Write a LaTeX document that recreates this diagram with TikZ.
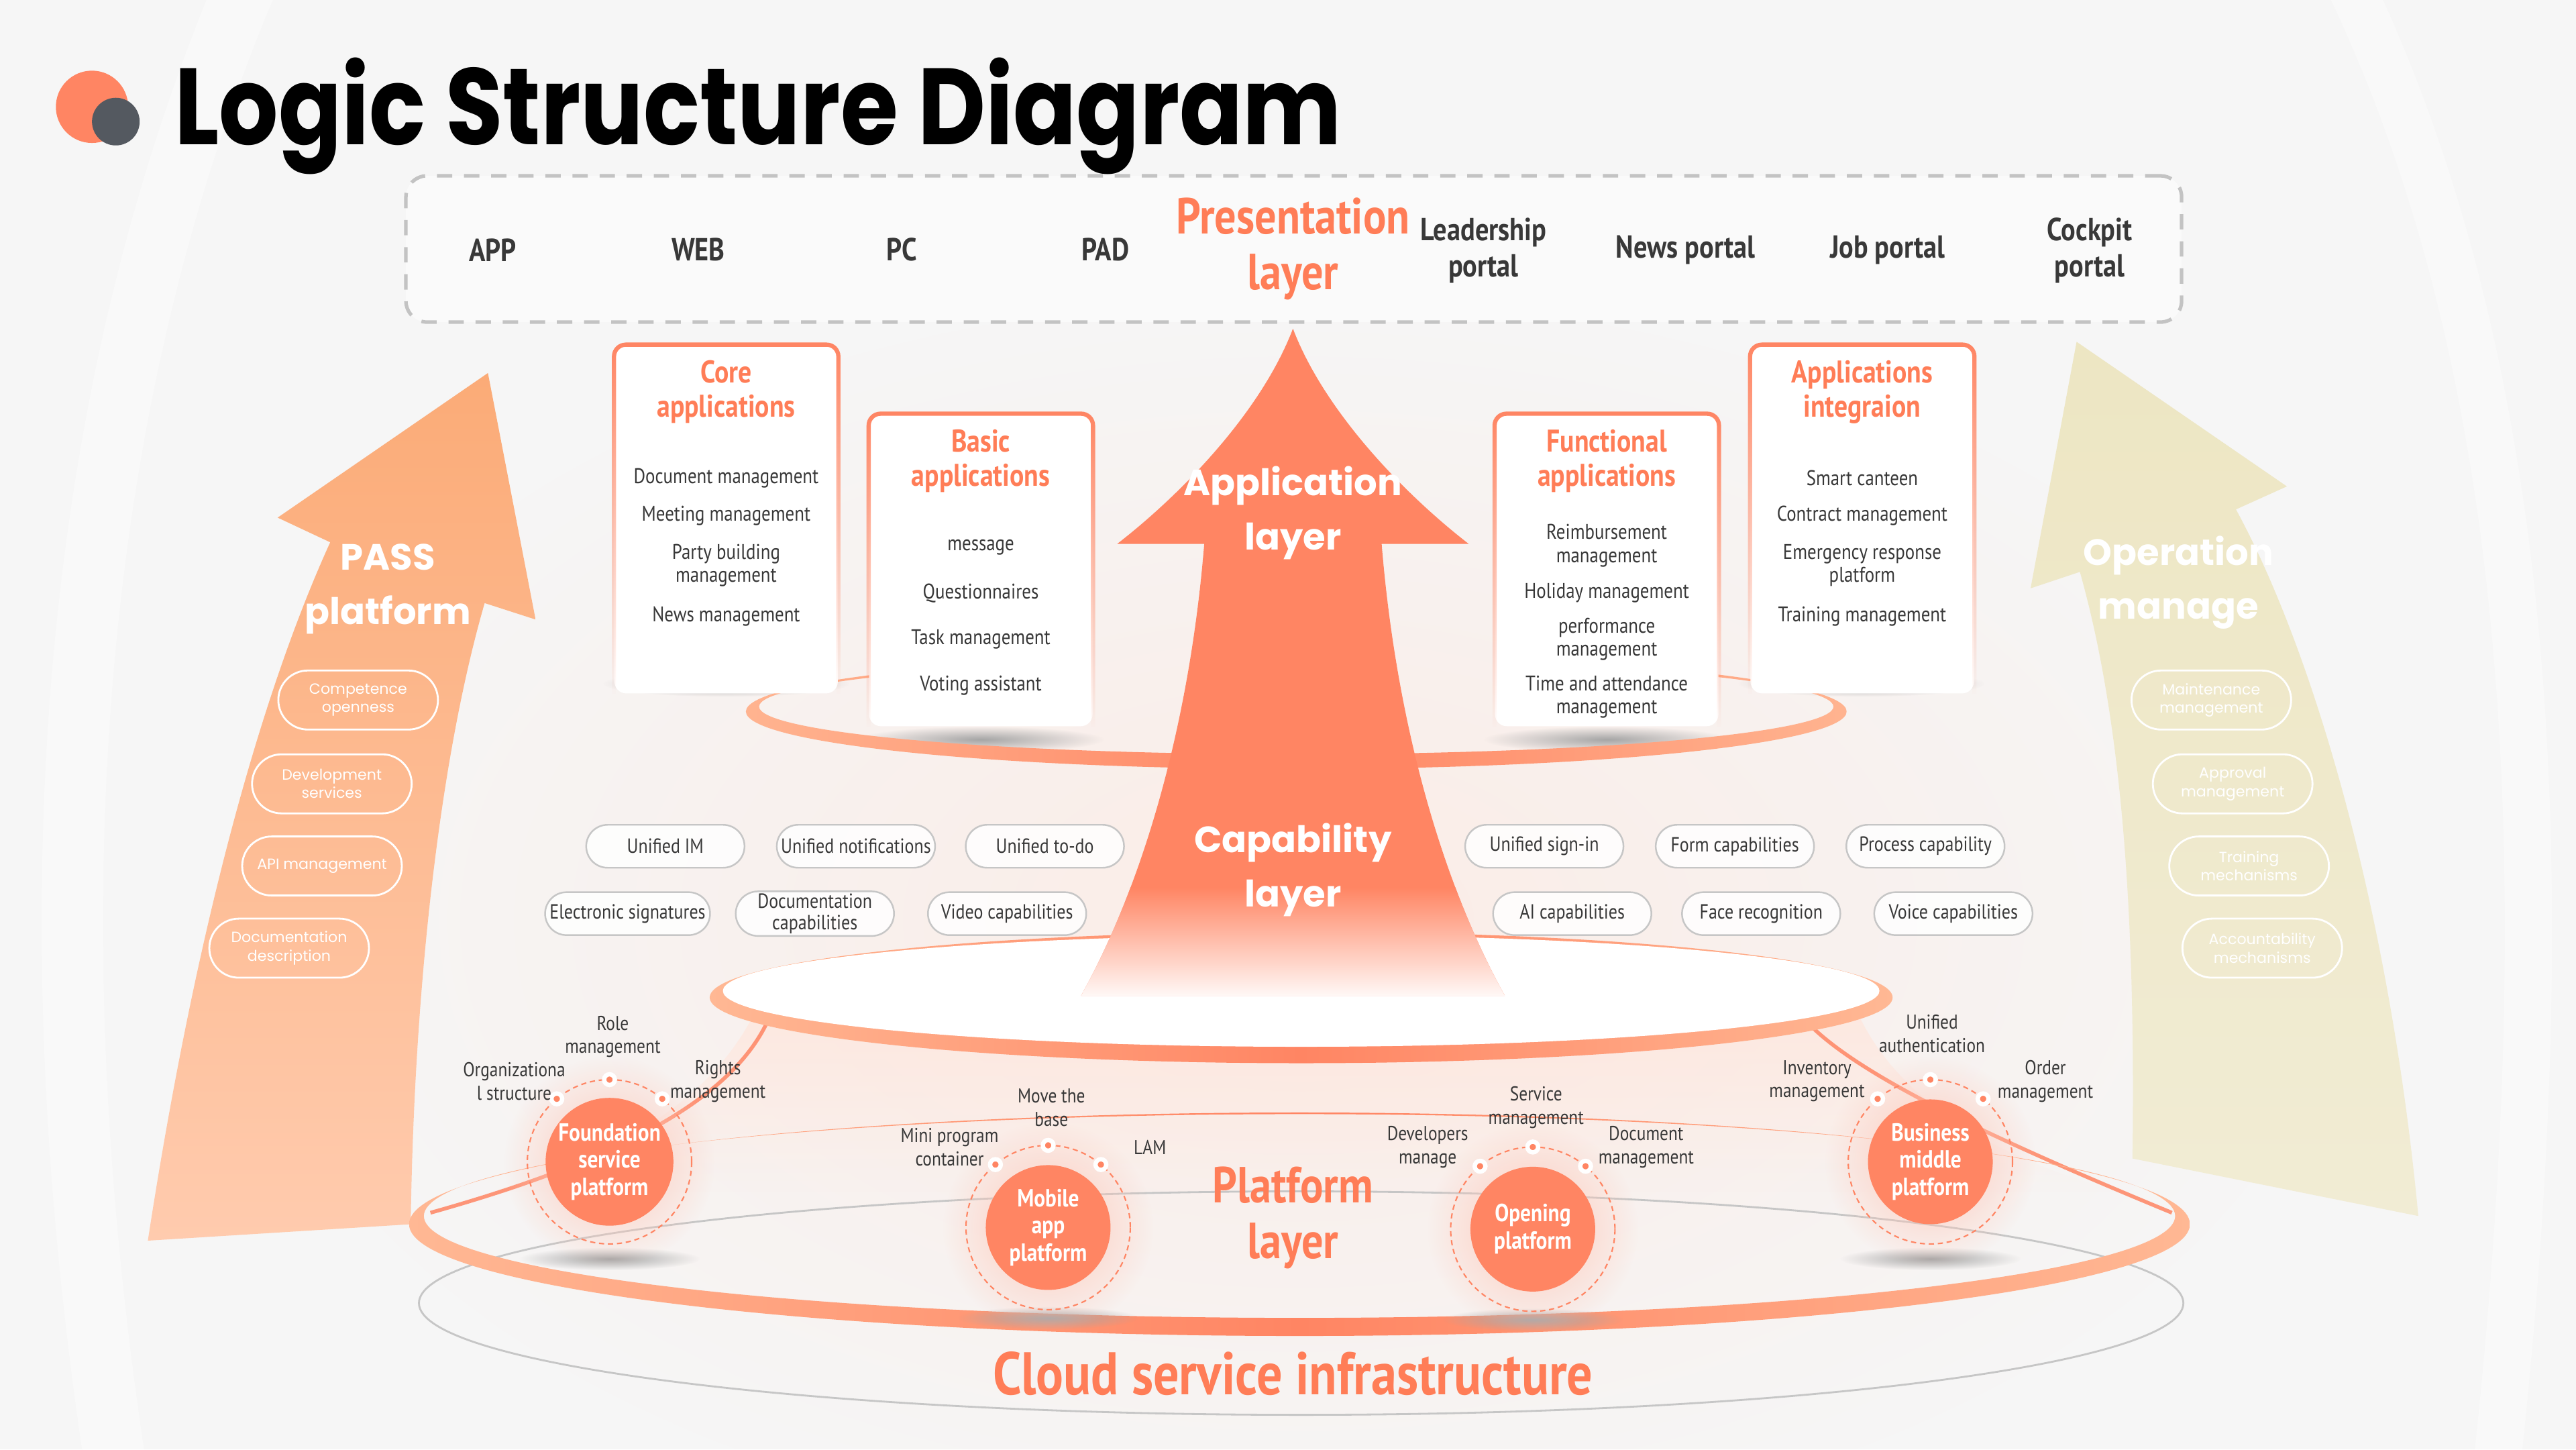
\documentclass[tikz,border=0pt]{standalone}
\usepackage{fontspec}
\setmainfont{PT Sans}
\newfontfamily\condf[FakeStretch=0.85]{PT Sans}
\newfontfamily\popf{Poppins}
\newfontfamily\titlef[FakeStretch=0.86]{Poppins}
\usepackage{xcolor}
\usepackage{tikz}
\usetikzlibrary{shapes.misc}
\usetikzlibrary{fadings}

\definecolor{mainor}{HTML}{FF8563}
\definecolor{titleor}{HTML}{FF7D57}
\definecolor{ringpeach}{HTML}{FFB894}
\definecolor{peach}{HTML}{FFBE98}
\definecolor{passtop}{HTML}{FBAB77}
\definecolor{passbot}{HTML}{FFCBAE}
\definecolor{opbeige}{HTML}{EDE6C3}
\definecolor{opbot}{HTML}{F1ECD4}
\definecolor{textdark}{HTML}{383838}
\definecolor{dashgray}{HTML}{C3C3C3}
\definecolor{pillgray}{HTML}{C6C6C6}
\definecolor{bggray}{HTML}{F6F6F6}
\definecolor{dotgray}{HTML}{545960}
\definecolor{pinkglow}{HTML}{FFE6DC}

\tikzfading[name=softfade, inner color=transparent!0, outer color=transparent!100]

\tikzstyle{presbox}=[rectangle, draw=dashgray, line width=1.5pt, dash pattern=on 6.5pt off 5pt, rounded corners=9pt, fill=white, fill opacity=0.55, minimum width=26.47cm, minimum height=2.18cm]
\tikzstyle{devtext}=[text=textdark, font=\condf\bfseries\fontsize{13.5}{14.6}\selectfont, align=center]
\tikzstyle{layername}=[text=titleor, font=\condf\bfseries\fontsize{21.5}{23.5}\selectfont, align=center]
\tikzstyle{arrowtext}=[text=white, font=\popf\bfseries\fontsize{15.5}{23}\selectfont, align=center]
\tikzstyle{card}=[rectangle, fill=white, rounded corners=5pt, minimum width=3.33cm, inner sep=0pt]
\tikzstyle{cardedge}=[draw=mainor, line width=1.8pt, rounded corners=5pt, path fading=south]
\tikzstyle{cardtitle}=[text=titleor, font=\condf\bfseries\fontsize{13.3}{14.6}\selectfont, align=center]
\tikzstyle{appitem}=[text=textdark, font=\condf\fontsize{9}{9.8}\selectfont, align=center]
\tikzstyle{capbox}=[rounded rectangle, draw=pillgray, line width=0.7pt, fill=white, fill opacity=0.85, text opacity=1, minimum width=2.43cm, minimum height=0.64cm, inner sep=1pt, text=textdark, font=\condf\fontsize{8.7}{9}\selectfont, align=center]
\tikzstyle{sidebox}=[rounded rectangle, draw=white, line width=0.8pt, minimum width=2.45cm, minimum height=0.88cm, inner sep=1pt, text=white, font=\popf\fontsize{6.3}{7.8}\selectfont, align=center]
\tikzstyle{platcore}=[circle, fill=mainor, minimum size=1.86cm, inner sep=0pt, text=white, font=\condf\bfseries\fontsize{10.5}{11.6}\selectfont, align=center]
\tikzstyle{orbit}=[draw=mainor, line width=0.6pt, dash pattern=on 2.2pt off 1.6pt]
\tikzstyle{orbdot}=[circle, fill=mainor, draw=white, line width=1.85pt, minimum size=0.16cm, inner sep=0pt]
\tikzstyle{dottag}=[text=textdark, font=\condf\fontsize{8.5}{9.8}\selectfont, align=center, inner sep=0pt]
\tikzstyle{halo}=[fill=mainor!45, path fading=softfade]
\tikzstyle{softshadow}=[fill=black!35, path fading=softfade]

\newcommand{\liftpath}{(787,200) .. controls (768,250) and (720,300) .. (680,331) -- (733,331) .. controls (725,430) and (700,530) .. (658,606) -- (916,606) .. controls (874,530) and (849,430) .. (841,331) -- (894,331) .. controls (854,300) and (806,250) .. (787,200) -- cycle}

\begin{document}
\begin{tikzpicture}[x=0.02449cm, y=-0.02449cm]
\useasboundingbox (0,0) rectangle (1568,882);
\fill[bggray] (0,0) rectangle (1568,882);
% backdrop
\draw[white, line width=26pt, opacity=0.35] (150,-10) .. controls (40,250) and (20,560) .. (70,890);
\draw[white, line width=20pt, opacity=0.35] (1430,-10) .. controls (1540,220) and (1560,520) .. (1520,890);
\fill[pinkglow, path fading=softfade, opacity=0.6] (790,560) ellipse [x radius=640, y radius=380];

% base plate
\draw[pillgray, line width=0.8pt] (792,793) ellipse [x radius=537, y radius=68];

% side arrows
\shade[top color=passtop, bottom color=passbot] (297,227) -- (326,377) -- (295,367) .. controls (268,460) and (252,600) .. (250,745) -- (90,755) .. controls (120,560) and (160,420) .. (201,330) -- (169,315) -- cycle;
\node[arrowtext] (pass) at (236,358.5) {PASS\\platform};
\node[sidebox] (p1) at (218,426) {Competence\\openness};
\node[sidebox] (p2) at (202,477) {Development\\services};
\node[sidebox] (p3) at (196,527) {API management};
\node[sidebox] (p4) at (176,577) {Documentation\\description};

\shade[top color=opbeige, bottom color=opbot] (1264,208) -- (1392,296) -- (1361,310) .. controls (1410,400) and (1455,560) .. (1472,740) -- (1298,705) .. controls (1300,560) and (1292,440) .. (1266,348) -- (1236,358) -- cycle;
\node[arrowtext] (oper) at (1326,354.5) {Operation\\manage};
\node[sidebox] (q1) at (1346,426) {Maintenance\\management};
\node[sidebox] (q2) at (1359,477) {Approval\\management};
\node[sidebox] (q3) at (1369,527) {Training\\mechanisms};
\node[sidebox] (q4) at (1377,577) {Accountability\\mechanisms};

% platform funnel
\fill[pinkglow, opacity=0.8, path fading=south] (462,612) .. controls (440,660) and (390,700) .. (300,725) -- (1290,725) .. controls (1200,700) and (1150,660) .. (1130,612) -- cycle;
\draw[mainor, line width=1.6pt, opacity=0.85] (467,622) .. controls (445,668) and (380,705) .. (262,738);
\draw[mainor, line width=1.6pt, opacity=0.85] (1104,626) .. controls (1140,660) and (1230,700) .. (1322,738);

% lower ring
\shade[even odd rule, left color=ringpeach, right color=ringpeach, middle color=mainor] (791,745) ellipse [x radius=542, y radius=68] (791,740) ellipse [x radius=533, y radius=62];

% capability disc
\shade[left color=ringpeach, right color=ringpeach, middle color=mainor] (792,607) ellipse [x radius=360, y radius=40];
\fill[white] (792,603) ellipse [x radius=352, y radius=34];

% card shadows
\fill[softshadow] (442,416) ellipse [x radius=75, y radius=8];
\fill[softshadow] (597,450) ellipse [x radius=75, y radius=8];
\fill[softshadow] (978,450) ellipse [x radius=75, y radius=8];
\fill[softshadow] (1133,416) ellipse [x radius=75, y radius=8];

% application ring
\shade[left color=ringpeach, right color=ringpeach, middle color=mainor] (1025.9,408.25) arc[start angle=-45, end angle=225, x radius=335, y radius=35] -- (557.8,409.5) arc[start angle=225, end angle=-45, x radius=327, y radius=29] -- cycle;

% application cards
\node[card, minimum height=5.19cm] (core) at (442,316) {};
\draw[cardedge] (core.south west) -- (core.north west) -- (core.north east) -- (core.south east);
\node[cardtitle] (coret) at (442,238.5) {Core\\applications};
\node[appitem] (c1) at (442,291) {Document management};
\node[appitem] (c2) at (442,314) {Meeting management};
\node[appitem] (c3) at (442,344) {Party building\\management};
\node[appitem] (c4) at (442,375) {News management};

\node[card, minimum height=4.65cm] (basic) at (597,347) {};
\draw[cardedge] (basic.south west) -- (basic.north west) -- (basic.north east) -- (basic.south east);
\node[cardtitle] (basict) at (597,280.5) {Basic\\applications};
\node[appitem] (b1) at (597,333) {message};
\node[appitem] (b2) at (597,361) {Questionnaires};
\node[appitem] (b3) at (597,389) {Task management};
\node[appitem] (b4) at (597,417) {Voting assistant};

\node[card, minimum height=4.65cm] (func) at (978,347) {};
\draw[cardedge] (func.south west) -- (func.north west) -- (func.north east) -- (func.south east);
\node[cardtitle] (funct) at (978,280.5) {Functional\\applications};
\node[appitem] (u1) at (978,332) {Reimbursement\\management};
\node[appitem] (u2) at (978,361) {Holiday management};
\node[appitem] (u3) at (978,389) {performance\\management};
\node[appitem] (u4) at (978,424) {Time and attendance\\management};

\node[card, minimum height=5.19cm] (integ) at (1133.5,316) {};
\draw[cardedge] (integ.south west) -- (integ.north west) -- (integ.north east) -- (integ.south east);
\node[cardtitle] (integt) at (1133.5,238.5) {Applications\\integraion};
\node[appitem] (i1) at (1133.5,291) {Smart canteen};
\node[appitem] (i2) at (1133.5,314) {Contract management};
\node[appitem] (i3) at (1133.5,344) {Emergency response\\platform};
\node[appitem] (i4) at (1133.5,375) {Training management};

% central arrow
\fill[mainor] \liftpath;
\begin{scope}
\clip \liftpath;
\shade[top color=mainor, middle color=peach, bottom color=white] (640,540) rectangle (935,610);
\end{scope}
\node[arrowtext] (appl) at (787,312) {Application\\layer};
\node[arrowtext] (capl) at (787,529.5) {Capability\\layer};

% capability pills
\node[capbox] (k1) at (405,515) {Unified IM};
\node[capbox] (k2) at (521,515) {Unified notifications};
\node[capbox] (k3) at (636,515) {Unified to-do};
\node[capbox] (k4) at (940,515) {Unified sign-in};
\node[capbox] (k5) at (1056,515) {Form capabilities};
\node[capbox] (k6) at (1172,515) {Process capability};
\node[capbox] (k7) at (382,556) {Electronic signatures};
\node[capbox] (k8) at (496,556) {Documentation\\capabilities};
\node[capbox] (k9) at (613,556) {Video capabilities};
\node[capbox] (k10) at (957,556) {AI capabilities};
\node[capbox] (k11) at (1072,556) {Face recognition};
\node[capbox] (k12) at (1189,556) {Voice capabilities};

% presentation layer
\node[presbox] (pres) at (787.5,151.5) {};
\node[devtext] (d1) at (300,152) {APP};
\node[devtext] (d2) at (425,152) {WEB};
\node[devtext] (d3) at (549,152) {PC};
\node[devtext] (d4) at (673,152) {PAD};
\node[layername] (presl) at (787,151.5) {Presentation\\layer};
\node[devtext, font=\condf\bfseries\fontsize{13.5}{15.5}\selectfont] (d5) at (903,152.5) {Leadership\\portal};
\node[devtext] (d6) at (1026,152) {News portal};
\node[devtext] (d7) at (1149,152) {Job portal};
\node[devtext, font=\condf\bfseries\fontsize{13.5}{15.5}\selectfont] (d8) at (1272,152.5) {Cockpit\\portal};

% platforms
\fill[softshadow] (371,766) ellipse [x radius=55, y radius=7];
\fill[halo] (371,707) circle (64);
\node[platcore] (found) at (371,707) {Foundation\\service\\platform};
\draw[orbit] (371,707) circle (50);
\node[orbdot] (f1) at (371,657) {};
\node[orbdot] (f2) at (338.9,668.7) {};
\node[orbdot] (f3) at (403.1,668.7) {};
\node[dottag] (f1t) at (373,631) {Role\\management};
\node[dottag] (f2t) at (313,658) {Organizationa\\l structure};
\node[dottag] (f3t) at (437,658) {Rights\\management};

\fill[softshadow] (638,802) ellipse [x radius=55, y radius=7];
\fill[halo] (638,747) circle (64);
\node[platcore] (mobile) at (638,747) {Mobile\\app\\platform};
\draw[orbit] (638,747) circle (50);
\node[orbdot] (m1) at (638,697) {};
\node[orbdot] (m2) at (605.9,708.7) {};
\node[orbdot] (m3) at (670.1,708.7) {};
\node[dottag] (m1t) at (640,674) {Move the\\base};
\node[dottag] (m2t) at (578,698) {Mini program\\container};
\node[dottag] (m3t) at (700,698) {LAM};

\fill[softshadow] (933,803) ellipse [x radius=55, y radius=7];
\fill[halo] (933,748) circle (64);
\node[platcore] (open) at (933,748) {Opening\\platform};
\draw[orbit] (933,748) circle (50);
\node[orbdot] (o1) at (933,698) {};
\node[orbdot] (o2) at (900.9,709.7) {};
\node[orbdot] (o3) at (965.1,709.7) {};
\node[dottag] (o1t) at (935,674) {Service\\management};
\node[dottag] (o2t) at (869,698) {Developers\\manage};
\node[dottag] (o3t) at (1002,698) {Document\\management};

\fill[softshadow] (1175,766) ellipse [x radius=55, y radius=7];
\fill[halo] (1175,707) circle (64);
\node[platcore] (busi) at (1175,707) {Business\\middle\\platform};
\draw[orbit] (1175,707) circle (50);
\node[orbdot] (s1) at (1175,657) {};
\node[orbdot] (s2) at (1142.9,668.7) {};
\node[orbdot] (s3) at (1207.1,668.7) {};
\node[dottag] (s1t) at (1176,629) {Unified\\authentication};
\node[dottag] (s2t) at (1106,658) {Inventory\\management};
\node[dottag] (s3t) at (1245,658) {Order\\management};

\node[layername] (platl) at (787,741) {Platform\\layer};
\node[layername, font=\condf\bfseries\fontsize{25.5}{28}\selectfont] (cloud) at (787,836) {Cloud service infrastructure};

% heading
\fill[mainor] (56,65) circle (22);
\fill[dotgray] (70.5,74) circle (14.5);
\node[anchor=base west, inner sep=0pt, text=black, font=\titlef\bfseries\fontsize{46}{50}\selectfont] (title) at (106,88) {Logic Structure Diagram};
\end{tikzpicture}
\end{document}
